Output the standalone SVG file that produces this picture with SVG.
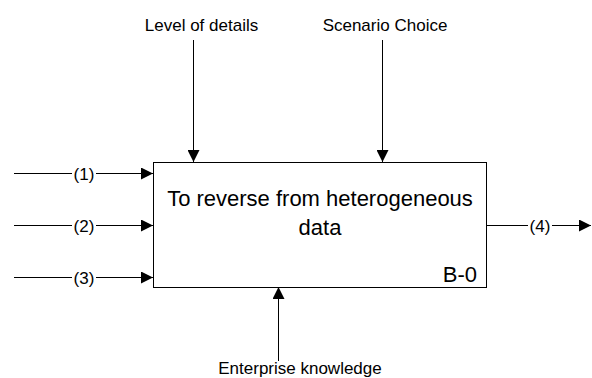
<svg xmlns="http://www.w3.org/2000/svg" width="592" height="378" viewBox="0 0 592 378">
<defs>
<style>
.ln{stroke:#000;stroke-width:1;fill:none}
.t{font-family:"Liberation Sans",Arial,sans-serif;fill:#000}
.s{font-size:17px}
.m{font-size:22px}
</style>
<marker id="ah" viewBox="0 0 12 12" refX="12" refY="6" markerWidth="12" markerHeight="12" markerUnits="userSpaceOnUse" orient="auto">
<path d="M0,0 L12,6 L0,12 Z" fill="#000"/>
</marker>
</defs>
<rect width="592" height="378" fill="#fff"/>
<g id="connectors">
<path class="ln" d="M14,173.5 H72 M96,173.5 H153" marker-end="url(#ah)"/>
<path class="ln" d="M14,225.5 H72 M96,225.5 H153" marker-end="url(#ah)"/>
<path class="ln" d="M14,277.5 H72 M96,277.5 H153" marker-end="url(#ah)"/>
<path class="ln" d="M486,225.5 H528 M552,225.5 H591" marker-end="url(#ah)"/>
<path class="ln" d="M193.5,40 V162" marker-end="url(#ah)"/>
<path class="ln" d="M382.5,40 V162" marker-end="url(#ah)"/>
<path class="ln" d="M278.5,361 V287" marker-end="url(#ah)"/>
<text class="t s" x="84" y="179.5" text-anchor="middle">(1)</text>
<text class="t s" x="84" y="231.5" text-anchor="middle">(2)</text>
<text class="t s" x="84" y="283.5" text-anchor="middle">(3)</text>
<text class="t s" x="540" y="231.5" text-anchor="middle">(4)</text>
<text class="t s" x="201.5" y="30.5" text-anchor="middle">Level of details</text>
<text class="t s" x="385" y="30.5" text-anchor="middle">Scenario Choice</text>
<text class="t s" x="300" y="374" text-anchor="middle">Enterprise knowledge</text>
</g>
<g id="node-b0">
<rect class="ln" x="153.5" y="162.5" width="333" height="125"/>
<text class="t m" x="320" y="206" text-anchor="middle">To reverse from heterogeneous</text>
<text class="t m" x="320" y="235" text-anchor="middle">data</text>
<text class="t m" x="477" y="282" text-anchor="end">B-0</text>
</g>
</svg>
